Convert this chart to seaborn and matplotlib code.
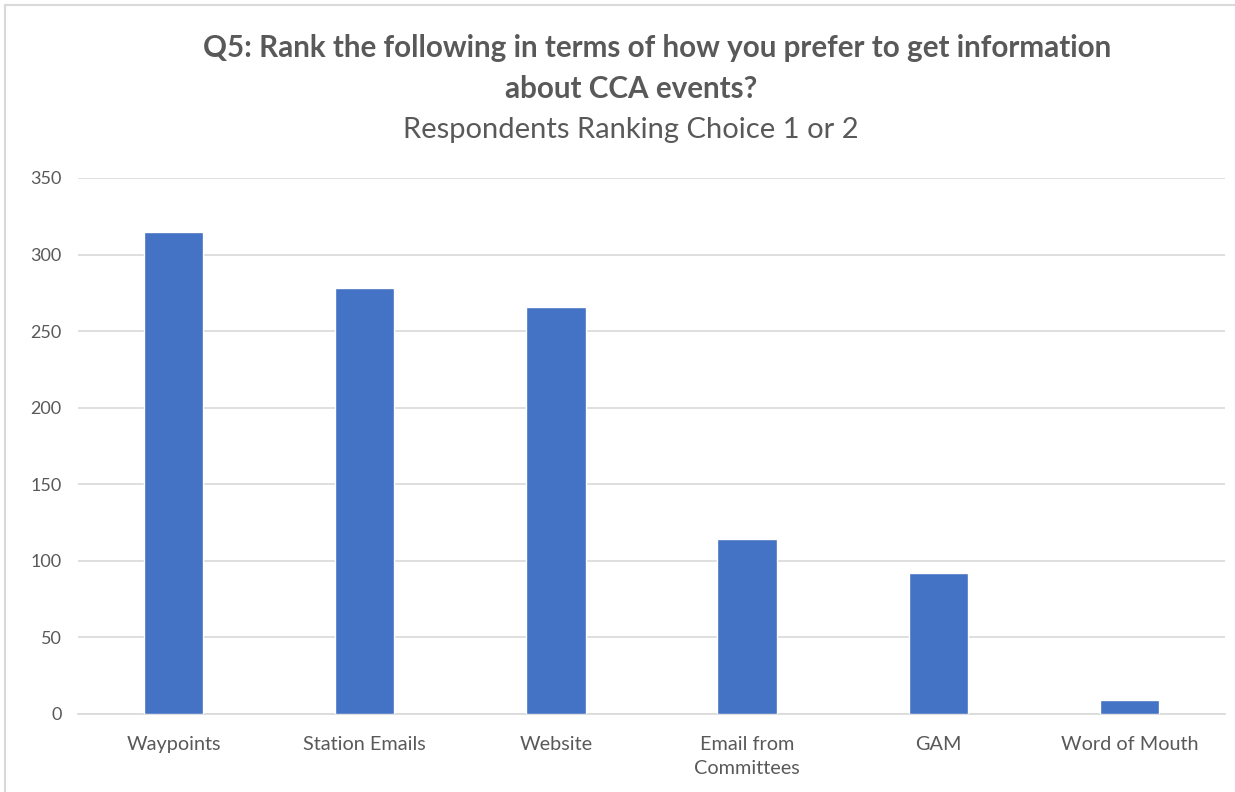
import pandas as pd
import matplotlib.pyplot as plt
import seaborn as sns

# Data
categories = ["Waypoints", "Station Emails", "Website", "Email from\nCommittees", "GAM", "Word of Mouth"]
respondents = [315, 278, 266, 114, 92, 9]
y_ticks = [0, 50, 100, 150, 200, 250, 300, 350]

df = pd.DataFrame({"category": categories, "count": respondents})

sns.set_theme(style="white")
plt.rcParams['font.family'] = ['Lato', 'DejaVu Sans']

fig = plt.figure(figsize=(12.35, 7.92), dpi=100)
ax = fig.add_axes([0.0632, 0.0985, 0.9287, 0.6768])

sns.barplot(data=df, x="category", y="count", color="#4472C4", width=0.31,
            saturation=1, ax=ax, zorder=3)

ax.set_ylim(0, 350)
ax.set_xlim(-0.5, len(categories) - 0.5)
ax.set_yticks(y_ticks)
ax.yaxis.grid(True, color="#D9D9D9", linewidth=1.2, zorder=0)
ax.set_xlabel("")
ax.set_ylabel("")
for side in ["top", "right", "left"]:
    ax.spines[side].set_visible(False)
ax.spines["bottom"].set_color("#D9D9D9")
ax.spines["bottom"].set_linewidth(1.2)
ax.tick_params(axis="x", colors="#595959", labelsize=14.3, length=0, pad=16)
ax.tick_params(axis="y", colors="#595959", labelsize=13, length=0, pad=12)
for lbl in ax.get_xticklabels():
    lbl.set_linespacing(1.45)

fig.text(0.532, 0.94, "Q5: Rank the following in terms of how you prefer to get information",
         ha="center", va="center", fontsize=21.3, fontweight="bold", color="#595959")
fig.text(0.511, 0.888, "about CCA events?",
         ha="center", va="center", fontsize=21.3, fontweight="bold", color="#595959")
fig.text(0.511, 0.836, "Respondents Ranking Choice 1 or 2",
         ha="center", va="center", fontsize=21, color="#595959")

# outer chart frame
fig.add_artist(plt.Rectangle((0.004, -0.01), 1.0, 1.004, transform=fig.transFigure,
                             fill=False, edgecolor="#D9D9D9", linewidth=1.5))

fig.savefig("out.png", dpi=100)
